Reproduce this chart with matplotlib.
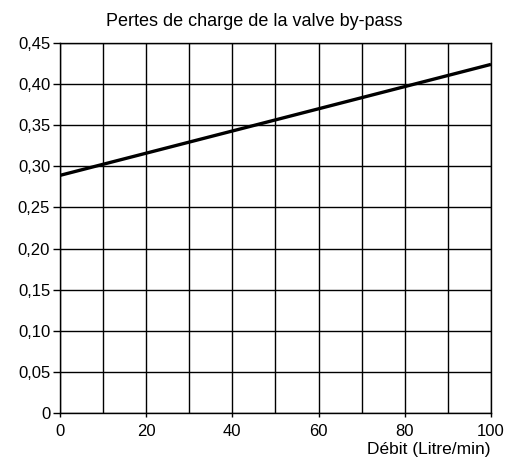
import numpy as np
from matplotlib import pyplot as plt
from matplotlib.ticker import FuncFormatter, MultipleLocator

plt.rcParams['font.family'] = ['Liberation Sans', 'DejaVu Sans']

# pressure drop of the by-pass valve vs flow rate
debit = [0, 100]
pertes = [0.289, 0.424]

x_ticks = [0, 20, 40, 60, 80, 100]
y_ticks = [0, 0.05, 0.10, 0.15, 0.20, 0.25, 0.30, 0.35, 0.40, 0.45]

fig = plt.figure(figsize=(5.08, 4.59), dpi=100)
ax = fig.add_axes([0.118, 0.1002, 0.8485, 0.8061])

ax.plot(debit, pertes, color="black", linewidth=2.4, solid_capstyle="butt", zorder=3)

ax.set_xlim(0, 100)
ax.set_ylim(0, 0.45)
ax.set_xticks(x_ticks)
ax.xaxis.set_minor_locator(MultipleLocator(10))
ax.set_yticks(y_ticks)
ax.yaxis.set_major_formatter(FuncFormatter(lambda v, _: "0" if v == 0 else f"{v:.2f}".replace(".", ",")))

ax.grid(True, which="both", axis="x", color="black", linewidth=1)
ax.grid(True, which="major", axis="y", color="black", linewidth=1)
ax.tick_params(axis="x", which="major", length=3, width=1, labelsize=12, pad=5)
ax.tick_params(axis="x", which="minor", length=0)
ax.tick_params(axis="y", length=5, width=1, labelsize=12, pad=2)
for s in ax.spines.values():
    s.set_linewidth(1)

fig.text(0.5, 0.953, "Pertes de charge de la valve by-pass", fontsize=13, ha="center", va="center")
ax.set_xlabel("Débit (Litre/min)", fontsize=12.5, loc="right", labelpad=2)

plt.savefig("out.png", dpi=100)
